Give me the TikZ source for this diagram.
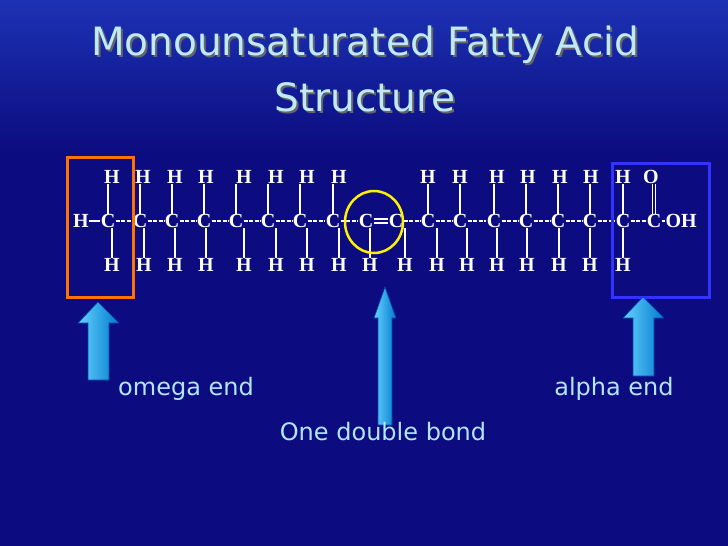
\documentclass[tikz,border=0pt]{standalone}
\usepackage{fontspec}
\usetikzlibrary{shapes.geometric}
\setmainfont{Liberation Serif}
\newfontfamily\tfont{DejaVu Sans}
\begin{document}
\begin{tikzpicture}[x=1pt,y=-1pt,
  atom/.style={font=\fontsize{20}{20}\selectfont\bfseries,text=white,inner sep=0.3pt},
  bnd/.style={white,line width=1.5pt},
  lbl/.style={font=\tfont\fontsize{24}{24}\selectfont,text=cyan!30!white},
  barrow/.style={draw=blue!60!cyan!70!black,line width=0.6pt,left color=cyan!70!blue!60!white,right color=cyan!60!blue!80!black}]
\definecolor{bg}{RGB}{12,12,128}
\definecolor{bgtop}{RGB}{28,50,180}
\useasboundingbox (0,0) rectangle (728,546);
\fill[bg] (0,0) rectangle (728,546);
\shade[top color=bgtop,bottom color=bg] (0,0) rectangle (728,150);
\node[font=\tfont\fontsize{39}{39}\selectfont,text=black!60] at (367,47) {Monounsaturated Fatty Acid};
\node[font=\tfont\fontsize{39}{39}\selectfont,text=black!60] at (367,99) {Structure};
\node (t1)[font=\tfont\fontsize{39}{39}\selectfont,text=cyan!25!white] at (365,45) {Monounsaturated Fatty Acid};
\node (t2)[font=\tfont\fontsize{39}{39}\selectfont,text=cyan!25!white] at (365,97) {Structure};
% main chain
\node[atom] (H0) at (81,221) {H};
\foreach \i/\x in {1/108,2/140,3/172,4/204,5/236,6/268,7/300,8/333,9/366,10/396,11/428,12/460,13/494,14/526,15/558,16/590,17/623,18/654}
  \node[atom] (C\i) at (\x,221) {C};
\node[atom,anchor=west] (OH) at (665,221) {OH};
\draw[bnd] (H0.east) -- (C1.west);
\foreach \a/\b in {1/2,2/3,3/4,4/5,5/6,6/7,7/8,8/9,10/11,11/12,12/13,13/14,14/15,15/16,16/17,17/18}
  \draw[bnd,dash pattern=on 4pt off 1.5pt] (C\a.east) -- (C\b.west);
\draw[bnd] ([yshift=-2.2pt]C9.east) -- ([yshift=-2.2pt]C10.west);
\draw[bnd] ([yshift=2.2pt]C9.east) -- ([yshift=2.2pt]C10.west);
\draw[bnd] (C18.east) -- (OH.west);
% top H
\foreach \i/\x in {1/112,2/143,3/175,4/206,5/244,6/276,7/307,8/339,11/428,12/460,13/497,14/528,15/560,16/591,17/623}{
  \node[atom] (T\i) at (\x,177) {H};
  \draw[bnd,line width=1.1pt] (C\i.north) -- (C\i.north |- T\i.south);}
\node[atom] (O) at (651,177) {O};
\draw[bnd,line width=1.1pt] ([xshift=-1.8pt]C18.north) -- ([xshift=-1.8pt]C18.north |- O.south);
\draw[bnd,line width=1.1pt] ([xshift=1.8pt]C18.north) -- ([xshift=1.8pt]C18.north |- O.south);
% bottom H
\foreach \i/\x in {1/112,2/144,3/175,4/206,5/244,6/276,7/307,8/339,9/370,10/405,11/437,12/467,13/497,14/527,15/559,16/590,17/623}{
  \node[atom] (B\i) at (\x,265) {H};
  \draw[bnd,line width=1.1pt] (B\i.north |- C\i.south) -- (B\i.north);}
% highlight shapes
\node (ob)[draw=orange!90!red,line width=2.5pt,minimum width=66pt,minimum height=140pt] at (100.5,227.5) {};
\node (bb)[draw=blue!80!white,line width=2.5pt,minimum width=97pt,minimum height=134pt] at (661,230.5) {};
\node (yc)[draw=yellow,line width=2.5pt,ellipse,minimum width=58pt,minimum height=62pt,inner sep=0] at (374,222) {};
% arrows
\coordinate (a1) at (98,302);
\fill[barrow] (a1) -- (119,323) -- (109,323) -- (109,380) -- (88,380) -- (88,323) -- (78,323) -- cycle;
\coordinate (a2) at (385,287);
\fill[barrow] (a2) -- (396,318) -- (392,318) -- (392,425) -- (378,425) -- (378,318) -- (374,318) -- cycle;
\coordinate (a3) at (643,297);
\fill[barrow] (a3) -- (664,318) -- (654,318) -- (654,376) -- (633,376) -- (633,318) -- (623,318) -- cycle;
\node[lbl] (l1) at (186,389) {omega end};
\node[lbl] (l2) at (614,389) {alpha end};
\node[lbl] (l3) at (383,432) {One double bond};
\end{tikzpicture}
\end{document}
